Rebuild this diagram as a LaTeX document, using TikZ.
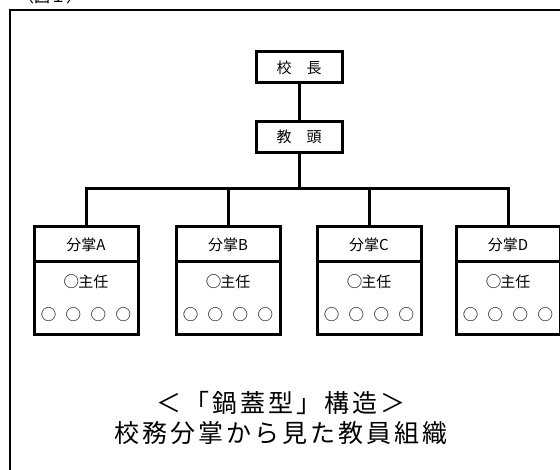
\documentclass[tikz,border=0pt]{standalone}
\usepackage{fontspec}
\setmainfont{Noto Sans CJK JP}
\newcommand{\bigo}{{\fontsize{15.5}{15.5}\selectfont ○}}
\begin{document}
\begin{tikzpicture}[x=1pt,y=-1pt,
  conn/.style={line width=3pt},
  topbox/.style={draw,line width=3pt,minimum width=86pt,minimum height=31pt,inner sep=0pt,font=\fontsize{15}{15}\selectfont},
  headbox/.style={draw,line width=3pt,minimum width=104pt,minimum height=35pt,inner sep=0pt,font=\fontsize{15}{15}\selectfont},
  bodybox/.style={draw,line width=3pt,minimum width=104pt,minimum height=73pt,inner sep=0pt,align=center,font=\fontsize{15}{33}\selectfont},
  captext/.style={align=center,inner sep=0pt,font=\fontsize{25}{30}\selectfont\addfontfeature{LetterSpace=12}}
]
\useasboundingbox (0,0) rectangle (560,470);
\draw[line width=2.6pt] (10,10) rectangle (580,490);
\node[anchor=base west,inner sep=0pt,font=\fontsize{16}{16}\selectfont] (title) at (18,3) {（図１）};

\node[topbox] (kocho) at (299,67.5) {校　長};
\node[topbox] (kyoto) at (299,137) {教　頭};
\coordinate (bus) at (299,189);

\foreach \n/\x/\t in {A/86/A,B/228/B,C/369/C,D/508/D}{
  \node[headbox] (h\n) at (\x,244.5) {分掌\t};
  \node[bodybox] (b\n) at (\x,298.5) {\bigo\kern-1pt 主任\\\bigo\hspace{9.5pt}\bigo\hspace{9.5pt}\bigo\hspace{9.5pt}\bigo};
}

\draw[conn] (kocho) -- (kyoto);
\draw[conn] (kyoto) -- (bus);
\draw[conn] (hA.north) |- (bus) -| (hD.north);
\draw[conn] (hB.north) -- (hB.north |- bus);
\draw[conn] (hC.north) -- (hC.north |- bus);

\node[captext] (cap) at (281,418) {＜「鍋蓋型」構造＞\\校務分掌から見た教員組織};
\end{tikzpicture}
\end{document}
